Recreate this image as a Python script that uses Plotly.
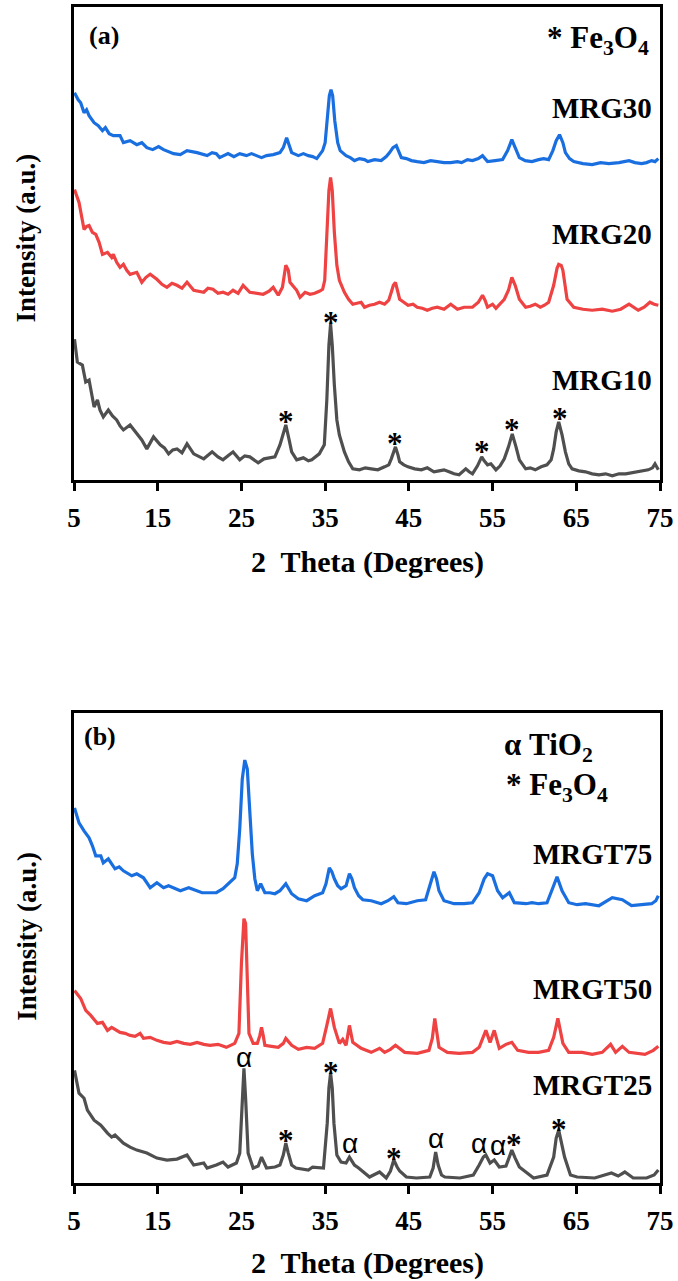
import plotly.graph_objects as go

# ---------------- data (2θ in degrees, intensity in a.u.) ----------------
mrg30_x = [5.06, 5.5, 5.8, 6.2, 6.5, 6.8, 7.4, 7.9, 8.4, 8.75, 9.2, 9.7, 10.5, 10.9, 11.7, 12.5, 13.1, 13.7,
           14.4, 15.1, 15.7, 16.3, 16.9, 17.7, 18.5, 19.7, 20.9, 21.5, 22.0, 22.4, 23.4, 24.1, 24.8, 25.6,
           26.2, 26.8, 27.4, 28.0, 28.8, 29.6, 30.0, 30.4, 30.7, 31.0, 31.8, 32.4, 33.0, 33.5, 34.0, 34.7,
           35.0, 35.25, 35.5, 35.7, 35.9, 36.15, 36.5, 36.8, 37.5, 38.0, 38.5, 39.1, 39.7, 40.1, 40.9,
           41.7, 42.3, 42.7, 43.1, 43.5, 43.8, 44.1, 44.7, 45.3, 46.0, 46.8, 47.6, 48.4, 49.2, 50.0, 50.8,
           51.3, 52.0, 52.6, 53.3, 53.8, 54.4, 55.3, 56.2, 56.8, 57.3, 57.7, 58.2, 58.9, 59.7, 60.5, 61.1,
           61.7, 62.2, 62.6, 63.0, 63.4, 63.7, 64.2, 64.7, 65.8, 66.9, 67.9, 68.9, 70.1, 71.3, 72.0, 72.8,
           73.4, 74.0, 74.4, 74.8]
mrg30_y = [388, 381, 378, 368, 371, 365, 358, 355, 350, 353, 347, 345, 345, 338, 340, 336, 338, 333,
           331, 334, 331, 329, 327, 326, 330, 328, 325, 328, 327, 323, 327, 324, 327, 325,
           327, 325, 323, 325, 326, 328, 333, 343, 336, 328, 325, 327, 325, 324, 322, 330,
           338, 360, 385, 391, 385, 360, 338, 330, 325, 323, 320, 322, 321, 319, 321,
           320, 324, 328, 333, 335, 328, 323, 322, 320, 319, 318, 320, 319, 318, 318, 319,
           318, 321, 320, 322, 325, 319, 320, 321, 330, 341, 333, 323, 320, 319, 321, 322,
           321, 330, 340, 346, 338, 328, 322, 319, 317, 316, 318, 317, 318, 320, 318, 317,
           318, 320, 319, 322]

mrg20_x = [5.06, 5.6, 6.2, 6.5, 6.8, 7.2, 7.6, 8.0, 8.4, 9.0, 9.5, 9.7, 10.1, 10.5, 10.9, 11.3, 11.7,
           12.5, 13.1, 13.6, 14.1, 14.9, 15.5, 16.1, 16.7, 17.3, 17.9, 18.5, 19.3, 20.5, 21.0, 21.6,
           22.2, 22.8, 23.4, 24.0, 24.6, 25.2, 26.0, 26.8, 27.6, 28.3, 28.8, 29.4, 29.9, 30.3, 30.6,
           30.8, 31.2, 31.6, 32.0, 32.6, 33.2, 33.75, 34.3, 34.7, 34.95, 35.2, 35.45, 35.65, 35.85,
           36.1, 36.4, 36.7, 37.3, 37.8, 38.3, 38.8, 39.3, 39.7, 40.3, 40.9, 41.5, 42.1, 42.6, 42.9,
           43.15, 43.4, 43.7, 43.9, 44.4, 44.9, 45.5, 46.0, 46.6, 47.2, 47.8, 48.4, 49.2, 50.0, 50.8,
           51.6, 52.6, 53.3, 53.8, 54.1, 54.4, 55.0, 55.4, 55.9, 56.4, 56.9, 57.3, 57.7, 58.2, 58.95,
           59.5, 60.1, 60.7, 61.2, 61.7, 62.3, 62.7, 62.9, 63.2, 63.4, 63.9, 64.7, 65.8, 66.9, 68.1,
           69.3, 70.3, 71.3, 72.4, 73.1, 73.8, 74.3, 74.8]
mrg20_y = [291, 278, 251, 254, 255, 248, 246, 238, 226, 228, 223, 226, 218, 213, 216, 210, 206,
           208, 198, 203, 206, 201, 196, 193, 197, 195, 192, 198, 190, 188, 192, 191,
           187, 188, 186, 190, 187, 195, 188, 187, 186, 189, 193, 185, 193, 215, 210,
           198, 194, 190, 183, 188, 186, 187, 189, 191, 200, 250, 290, 303, 290,
           248, 215, 200, 188, 181, 176, 177, 178, 173, 175, 176, 178, 176, 180, 188,
           195, 198, 188, 181, 178, 175, 176, 173, 172, 170, 172, 173, 171, 176, 171,
           173, 173, 178, 185, 180, 173, 176, 172, 177, 181, 190, 203, 195, 181, 173,
           174, 176, 173, 175, 178, 195, 212, 216, 215, 210, 181, 173, 171, 170, 171,
           169, 171, 176, 170, 173, 178, 176, 175]

mrg10_x = [5.06, 5.4, 6.0, 6.4, 6.8, 7.4, 7.8, 8.1, 8.5, 9.1, 9.6, 10.1, 10.5, 10.9, 11.7, 12.5, 13.1,
           13.7, 14.5, 15.3, 15.8, 16.3, 16.8, 17.3, 17.9, 18.5, 19.3, 20.5, 21.0, 21.5, 22.2, 22.8,
           23.4, 24.0, 24.8, 25.4, 26.0, 27.0, 27.7, 28.4, 29.0, 29.6, 30.0, 30.3, 30.7, 31.0, 31.6,
           32.4, 33.0, 33.4, 34.3, 34.9, 35.2, 35.45, 35.65, 35.85, 36.1, 36.4, 36.7, 37.3, 37.8, 38.3,
           39.1, 39.8, 40.5, 41.3, 42.1, 42.6, 42.9, 43.15, 43.4, 43.7, 43.9, 44.4, 44.9, 45.7, 46.5,
           47.2, 48.0, 48.6, 49.2, 49.8, 50.4, 51.0, 51.5, 51.8, 52.2, 52.6, 53.2, 53.7, 54.0, 54.4,
           54.8, 55.4, 55.9, 56.4, 56.9, 57.35, 57.8, 58.2, 58.95, 59.5, 60.1, 60.8, 61.5, 62.0, 62.3,
           62.6, 62.9, 63.3, 63.7, 64.1, 64.5, 65.3, 66.1, 66.9, 67.7, 68.5, 69.3, 70.1, 70.9, 71.6,
           72.4, 73.0, 73.6, 74.1, 74.4, 74.8]
mrg10_y = [141, 118, 115, 98, 100, 73, 80, 70, 63, 70, 64, 60, 54, 50, 55, 46, 40,
           31, 43, 35, 32, 26, 30, 31, 27, 36, 26, 21, 25, 28, 23, 20,
           24, 28, 20, 24, 23, 17, 21, 22, 23, 35, 47, 55, 40, 28, 20,
           22, 19, 20, 26, 35, 80, 135, 156, 135, 95, 60, 45, 28, 18, 11,
           10, 12, 11, 10, 13, 15, 21, 28, 33, 25, 18, 15, 13, 11, 10,
           12, 8, 9, 10, 8, 6, 5, 9, 11, 8, 6, 14, 23, 19, 15,
           16, 10, 14, 21, 33, 46, 33, 20, 11, 12, 10, 13, 15, 20, 31,
           48, 58, 45, 28, 16, 11, 9, 8, 6, 5, 6, 4, 6, 6, 7,
           8, 9, 10, 12, 16, 10]

mrgt75_x = [5.06, 5.6, 6.2, 6.8, 7.2, 7.6, 8.2, 8.5, 9.1, 9.9, 10.4, 10.9, 11.9, 12.5, 13.3, 14.1, 14.9,
            15.7, 16.3, 16.9, 17.7, 18.7, 19.7, 20.3, 20.9, 22.0, 22.8, 23.4, 24.2, 24.5, 24.8, 25.1,
            25.4, 25.7, 26.0, 26.3, 26.6, 26.9, 27.3, 27.8, 28.4, 29.0, 29.6, 30.3, 31.0, 31.8, 32.8,
            33.75, 34.7, 35.1, 35.5, 35.8, 36.1, 36.5, 36.9, 37.5, 37.9, 38.2, 38.5, 39.0, 39.5, 40.5,
            41.7, 42.5, 43.2, 43.7, 44.7, 46.0, 47.0, 47.4, 47.8, 48.0, 48.3, 48.6, 49.2, 50.4, 51.6,
            52.6, 53.4, 54.0, 54.4, 54.7, 55.0, 55.6, 56.2, 57.0, 57.6, 59.0, 59.7, 60.5, 61.5, 62.2,
            62.7, 63.3, 64.1, 65.1, 66.1, 67.7, 68.5, 69.3, 70.5, 71.6, 72.8, 74.0, 74.5, 74.8]
mrgt75_y = [376, 361, 353, 346, 338, 328, 328, 321, 325, 315, 317, 313, 308, 310, 306, 296, 301,
            296, 298, 296, 293, 296, 293, 291, 291, 291, 295, 300, 306, 320, 355, 405,
            424, 415, 375, 330, 305, 293, 300, 291, 291, 290, 293, 300, 290, 285, 283,
            288, 291, 300, 316, 312, 305, 298, 295, 298, 310, 305, 296, 288, 284, 283,
            280, 283, 287, 281, 280, 283, 284, 296, 308, 312, 305, 293, 283, 280, 280,
            281, 291, 305, 310, 309, 308, 293, 286, 291, 281, 280, 281, 280, 281, 296,
            307, 293, 281, 279, 280, 278, 282, 286, 284, 278, 279, 280, 283, 288]

mrgt50_x = [5.06, 5.8, 6.4, 7.0, 7.8, 8.4, 9.0, 9.5, 10.5, 11.1, 11.7, 12.3, 12.9, 13.3, 14.1, 14.9,
            15.7, 16.5, 17.3, 18.1, 18.9, 19.7, 20.5, 21.25, 22.2, 23.2, 24.2, 24.7, 25.0, 25.3, 25.5,
            25.7, 25.9, 26.4, 26.9, 27.2, 27.4, 27.6, 27.8, 28.6, 29.4, 30.0, 30.3, 30.6, 31.0, 31.8,
            32.8, 33.75, 34.7, 35.2, 35.65, 36.1, 36.7, 37.1, 37.5, 37.9, 38.3, 39.3, 40.5, 41.5, 42.1,
            42.8, 43.4, 44.5, 46.0, 47.4, 47.8, 48.1, 48.4, 48.6, 49.6, 51.0, 52.6, 53.4, 54.2, 54.7,
            55.2, 55.8, 56.6, 57.3, 58.0, 59.3, 60.5, 61.7, 62.3, 62.8, 63.4, 64.1, 65.7, 66.9, 68.1,
            69.1, 69.7, 70.5, 71.3, 72.2, 73.2, 74.2, 74.8]
mrgt50_y = [193, 185, 173, 168, 160, 161, 153, 156, 151, 150, 148, 147, 150, 145, 146, 143,
            141, 140, 142, 140, 139, 141, 139, 138, 139, 136, 140, 150, 220, 265, 260,
            200, 150, 140, 140, 148, 156, 148, 138, 137, 136, 140, 145, 142, 138, 134,
            136, 135, 140, 158, 175, 156, 140, 144, 138, 158, 141, 135, 131, 135, 131,
            134, 138, 131, 130, 133, 145, 165, 150, 136, 131, 130, 131, 136, 153, 141,
            153, 135, 139, 141, 133, 131, 131, 133, 146, 165, 140, 131, 131, 129, 131,
            139, 131, 137, 131, 130, 129, 133, 137]

mrgt25_x = [5.06, 5.6, 6.2, 6.6, 7.4, 8.2, 9.0, 9.5, 9.9, 10.9, 11.7, 12.5, 13.7, 14.9, 16.1, 17.3,
            18.5, 19.3, 20.5, 20.9, 22.0, 22.8, 23.4, 24.4, 24.8, 25.1, 25.3, 25.5, 25.8, 26.4, 27.0,
            27.4, 28.0, 29.0, 29.6, 30.0, 30.3, 30.6, 31.0, 31.5, 33.0, 33.5, 34.8, 35.25, 35.45,
            35.65, 35.85, 36.05, 36.4, 36.9, 37.5, 37.9, 38.5, 39.0, 40.3, 41.5, 42.3, 42.8, 43.2, 43.6,
            43.9, 44.7, 45.9, 47.5, 47.9, 48.2, 48.5, 48.9, 49.3, 51.1, 52.7, 53.4, 53.9, 54.2, 54.7,
            55.2, 55.8, 56.6, 57.0, 57.3, 57.7, 58.2, 59.9, 61.5, 62.3, 62.6, 62.9, 63.2, 63.6, 64.3,
            65.1, 67.2, 69.2, 70.0, 70.8, 71.8, 73.4, 74.3, 74.8]
mrgt25_y = [113, 90, 85, 73, 63, 58, 50, 46, 48, 40, 36, 33, 30, 25, 23, 24,
            28, 18, 20, 15, 18, 21, 16, 20, 30, 85, 115, 85, 30, 15, 17,
            26, 15, 16, 18, 28, 40, 30, 18, 15, 13, 16, 15, 60, 95,
            110, 95, 60, 28, 21, 20, 26, 18, 15, 6, 11, 5, 12, 23, 16,
            12, 6, 5, 6, 15, 31, 18, 8, 6, 5, 8, 18, 26, 28, 20,
            23, 16, 17, 25, 33, 25, 16, 5, 8, 26, 45, 53, 42, 26, 8,
            6, 5, 10, 7, 11, 5, 5, 8, 13]

labels_a = ["MRG30", "MRG20", "MRG10"]
labels_b = ["MRGT75", "MRGT50", "MRGT25"]

# marker annotations: (2θ, height, symbol)
marks_a = [(30.3, 65, "*"), (35.65, 165, "*"), (43.4, 43, "*"), (53.7, 35, "*"),
           (57.35, 57, "*"), (63.0, 68, "*")]
marks_b = [(25.3, 126, "α"), (30.3, 50, "*"), (35.65, 118, "*"), (38.0, 40, "α"),
           (43.2, 32, "*"), (48.3, 45, "α"), (53.4, 40, "α"), (55.6, 38, "α"),
           (57.6, 46, "*"), (62.9, 61, "*")]

tick_vals = [5, 15, 25, 35, 45, 55, 65, 75]

BLUE = "#1a6fe0"
RED = "#ef4242"
GRAY = "#4f4f4f"
SERIF = "Liberation Serif"

fig = go.Figure()
for xs, ys, col in [(mrg30_x, mrg30_y, BLUE), (mrg20_x, mrg20_y, RED), (mrg10_x, mrg10_y, GRAY)]:
    fig.add_trace(go.Scatter(x=xs, y=ys, mode="lines", line=dict(color=col, width=3.2),
                             xaxis="x", yaxis="y", showlegend=False, hoverinfo="skip"))
for xs, ys, col in [(mrgt75_x, mrgt75_y, BLUE), (mrgt50_x, mrgt50_y, RED), (mrgt25_x, mrgt25_y, GRAY)]:
    fig.add_trace(go.Scatter(x=xs, y=ys, mode="lines", line=dict(color=col, width=3.2),
                             xaxis="x2", yaxis="y2", showlegend=False, hoverinfo="skip"))

axis_common = dict(showline=True, mirror=True, linecolor="black", linewidth=3,
                   showgrid=False, zeroline=False)
xcommon = dict(axis_common, range=[5, 75], tickvals=tick_vals, ticks="outside", ticklen=8,
               tickwidth=3, tickcolor="black",
               tickfont=dict(family=SERIF, size=27, color="black", weight="bold"),
               ticklabelstandoff=4)
ycommon = dict(axis_common, showticklabels=False, ticks="")

H0 = 1183.0
PH = 1179.0


def py(pix):
    return (H0 - pix) / PH


def px(pix):
    return (pix - 74) / 588.0


fig.update_layout(
    width=678, height=1281,
    margin=dict(l=74, r=16, t=4, b=98),
    paper_bgcolor="white", plot_bgcolor="white",
    xaxis=dict(xcommon, domain=[0, 1], anchor="y"),
    yaxis=dict(ycommon, domain=[py(478), 1], range=[0, 474], anchor="x"),
    xaxis2=dict(xcommon, domain=[0, 1], anchor="y2"),
    yaxis2=dict(ycommon, domain=[0, py(712)], range=[0, 471], anchor="x2"),
)

ann = []
bold = dict(family=SERIF, color="black", weight="bold")

# axis titles
for ty in [py(560), py(1263)]:
    ann.append(dict(xref="paper", yref="paper", x=0.5, y=ty, text="2  Theta (Degrees)",
                    showarrow=False, xanchor="center", yanchor="middle", font=dict(bold, size=30)))
for ty in [py(236), py(936)]:
    ann.append(dict(xref="paper", yref="paper", x=px(26), y=ty, text="Intensity (a.u.)",
                    textangle=-90, showarrow=False, xanchor="center", yanchor="middle",
                    font=dict(bold, size=27)))

# panel tags
ann.append(dict(xref="paper", yref="paper", x=px(104), y=py(33), text="(a)", showarrow=False,
                xanchor="center", yanchor="middle", font=dict(bold, size=26)))
ann.append(dict(xref="paper", yref="paper", x=px(100), y=py(735), text="(b)", showarrow=False,
                xanchor="center", yanchor="middle", font=dict(bold, size=26)))

# phase keys
ann.append(dict(xref="paper", yref="paper", x=px(653), y=py(37), text="* Fe<sub>3</sub>O<sub>4</sub>",
                showarrow=False, xanchor="right", yanchor="middle", font=dict(bold, size=31)))
ann.append(dict(xref="paper", yref="paper", x=px(503), y=py(746), text="α TiO<sub>2</sub>",
                showarrow=False, xanchor="left", yanchor="middle", font=dict(bold, size=31)))
ann.append(dict(xref="paper", yref="paper", x=px(505), y=py(786), text="* Fe<sub>3</sub>O<sub>4</sub>",
                showarrow=False, xanchor="left", yanchor="middle", font=dict(bold, size=31)))

# sample labels
for lab, pyy in zip(labels_a, [105, 232, 378]):
    ann.append(dict(xref="paper", yref="paper", x=px(656), y=py(pyy), text=lab, showarrow=False,
                    xanchor="right", yanchor="middle", font=dict(bold, size=29)))
for lab, pyy in zip(labels_b, [853, 989, 1085]):
    ann.append(dict(xref="paper", yref="paper", x=px(656), y=py(pyy), text=lab, showarrow=False,
                    xanchor="right", yanchor="middle", font=dict(bold, size=29)))

# peak markers
for xr, yr, marks in [("x", "y", marks_a), ("x2", "y2", marks_b)]:
    for xv, yv, s in marks:
        if s == "*":
            ann.append(dict(xref=xr, yref=yr, x=xv, y=yv, text="*", showarrow=False,
                            xanchor="center", yanchor="middle", yshift=-7,
                            font=dict(family=SERIF, size=31, color="black", weight="bold")))
        else:
            ann.append(dict(xref=xr, yref=yr, x=xv, y=yv, text="α", showarrow=False,
                            xanchor="center", yanchor="middle",
                            font=dict(family="Liberation Sans", size=28, color="black")))

fig.update_layout(annotations=ann, hovermode=False)
fig.write_html(
    "out.html",
    config={"displayModeBar": False, "staticPlot": True},
    post_script="document.body.style.margin='0';document.body.style.padding='0';"
                "document.body.style.overflow='hidden';",
)
